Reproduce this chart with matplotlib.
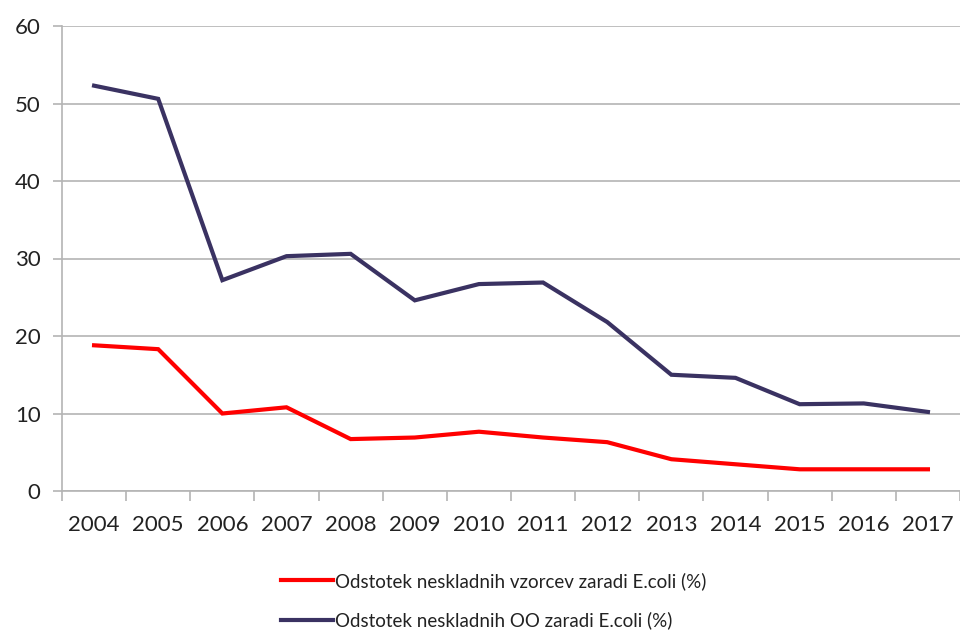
import matplotlib
matplotlib.use("Agg")
import matplotlib.pyplot as plt
import numpy as np

years = ["2004", "2005", "2006", "2007", "2008", "2009", "2010",
         "2011", "2012", "2013", "2014", "2015", "2016", "2017"]
vzorci = [18.8, 18.3, 10.0, 10.8, 6.7, 6.9, 7.65, 6.9, 6.3, 4.1, 3.45, 2.8, 2.8, 2.8]
oo = [52.3, 50.6, 27.2, 30.3, 30.6, 24.6, 26.7, 26.9, 21.8, 15.0, 14.6, 11.2, 11.3, 10.2]
labels = ["Odstotek neskladnih vzorcev zaradi E.coli (%)",
          "Odstotek neskladnih OO zaradi E.coli (%)"]

plt.rcParams["font.family"] = ["Lato", "DejaVu Sans"]

fig = plt.figure(figsize=(9.6, 6.33), dpi=100)
ax = fig.add_axes([62 / 960, (633 - 491) / 633, 1 - 62 / 960, (491 - 26) / 633])

x = np.arange(len(years))
ax.plot(x, vzorci, color="#ff0000", lw=3, label=labels[0], solid_joinstyle="miter")
ax.plot(x, oo, color="#3a3262", lw=3, label=labels[1], solid_joinstyle="miter")

ax.set_ylim(0, 60)
ax.set_xlim(-0.5, 13.4)
ax.set_yticks(range(0, 61, 10))
ax.yaxis.grid(True, color="#b4b4b4", lw=1.2)
ax.set_axisbelow(True)

ax.set_xticks(x)
ax.set_xticklabels(years)
ax.set_xticks(np.arange(-0.5, 14, 1), minor=True)
ax.tick_params(axis="x", which="major", length=0, pad=17, labelsize=16, colors="#222222")
ax.tick_params(axis="x", which="minor", length=7, width=1.2, color="#b4b4b4")
ax.tick_params(axis="y", length=6.5, width=1.2, color="#b4b4b4", pad=9,
               labelsize=16, labelcolor="#222222")

for side in ["top", "right"]:
    ax.spines[side].set_visible(False)
for side in ["left", "bottom"]:
    ax.spines[side].set_color("#b4b4b4")
    ax.spines[side].set_linewidth(1.2)

fig.legend(loc="upper left", bbox_to_anchor=(264 / 960, 1 - 555 / 633),
           frameon=False, fontsize=13.5, handlelength=2.8, handletextpad=0.1,
           labelspacing=1.15, labelcolor="#222222")

fig.savefig("out.png", dpi=100)
